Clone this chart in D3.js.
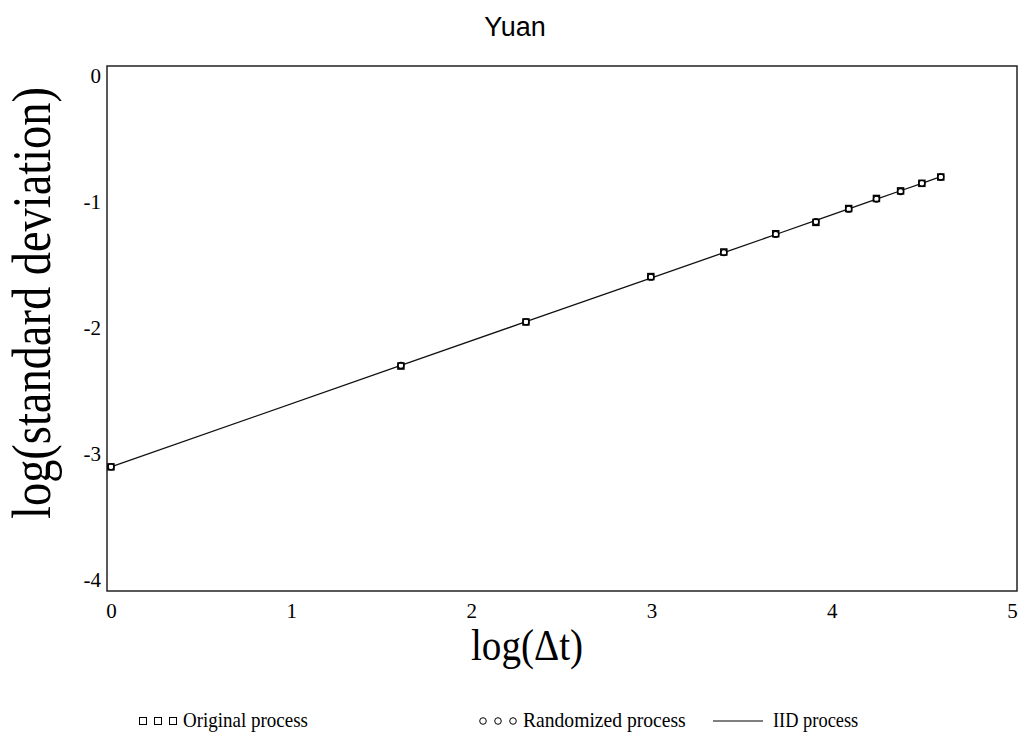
<!DOCTYPE html>
<html>
<head>
<meta charset="utf-8">
<script src="https://cdn.jsdelivr.net/npm/d3@7"></script>
<style>
  html, body { margin: 0; padding: 0; background: #fff; }
  svg { display: block; }
</style>
</head>
<body>
<svg id="chart" width="1019" height="744"></svg>
<script>
// log(Δt) sampling points (Δt = 1, 5, 10, 20, ..., 100)
const logDt = [0, 1.609, 2.303, 2.996, 3.401, 3.689, 3.912, 4.094, 4.248, 4.382, 4.500, 4.605];
// log(standard deviation) of each process
const originalValues   = [-3.11, -2.31, -1.96, -1.60, -1.405, -1.26, -1.17, -1.06, -0.98, -0.92, -0.86, -0.81];
const randomizedValues = [-3.11, -2.305, -1.96, -1.605, -1.41, -1.265, -1.165, -1.065, -0.985, -0.925, -0.86, -0.81];
const iidValues        = [-3.11, -2.305, -1.958, -1.612, -1.41, -1.266, -1.154, -1.063, -0.986, -0.919, -0.86, -0.807];
const xTicks = [0, 1, 2, 3, 4, 5];
const yTicks = [0, -1, -2, -3, -4];
const legendItems = ["Original process", "Randomized process", "IID process"];

const svg = d3.select("#chart");
const box = { left: 107, right: 1017, top: 66, bottom: 591 };

const x = d3.scaleLinear().domain([-0.022, 5.028]).range([box.left, box.right]);
const y = d3.scaleLinear().domain([-4.095, 0.071]).range([box.bottom, box.top]);

const serif = "'Liberation Serif', 'Times New Roman', serif";
const fmt = d => String(d); // plain hyphen for negatives

// title
svg.append("text")
  .attr("x", 515).attr("y", 36)
  .attr("text-anchor", "middle")
  .attr("font-family", "'Liberation Sans', Arial, sans-serif")
  .attr("font-size", 27)
  .text("Yuan");

// plot frame
svg.append("rect")
  .attr("x", box.left).attr("y", box.top)
  .attr("width", box.right - box.left).attr("height", box.bottom - box.top)
  .attr("fill", "none").attr("stroke", "#222").attr("stroke-width", 1.5);

// x axis labels (no tick marks, no domain line)
const xAxis = d3.axisBottom(x).tickValues(xTicks).tickSize(0).tickPadding(0).tickFormat(fmt);
const gx = svg.append("g").attr("transform", `translate(0,${box.bottom + 27})`).call(xAxis);
gx.select(".domain").remove();
gx.selectAll("text").attr("font-family", serif).attr("font-size", 21).attr("fill", "#000").attr("dy", "0");

// y axis labels
const yAxis = d3.axisLeft(y).tickValues(yTicks).tickSize(0).tickPadding(0).tickFormat(fmt);
const gy = svg.append("g").attr("transform", `translate(${box.left - 6},0)`).call(yAxis);
gy.select(".domain").remove();
gy.selectAll("text").attr("font-family", serif).attr("font-size", 21).attr("fill", "#000").attr("dy", "0.35em");

// axis titles (tall, slightly condensed serif)
svg.append("text")
  .attr("transform", "translate(527,660) scale(0.87,1)")
  .attr("text-anchor", "middle")
  .attr("font-family", serif).attr("font-size", 45)
  .text("log(\u0394t)");

svg.append("text")
  .attr("transform", "translate(50,303) rotate(-90) scale(0.86,1)")
  .attr("text-anchor", "middle")
  .attr("font-family", serif).attr("font-size", 54)
  .text("log(standard deviation)");

// IID line
const line = d3.line().x((d, i) => x(logDt[i])).y(d => y(d));
svg.append("path")
  .datum(iidValues)
  .attr("d", line)
  .attr("fill", "none").attr("stroke", "#111").attr("stroke-width", 1.3);

// randomized process: circles
svg.append("g").selectAll("circle")
  .data(randomizedValues)
  .join("circle")
  .attr("cx", (d, i) => x(logDt[i])).attr("cy", d => y(d))
  .attr("r", 3)
  .attr("fill", "#fff").attr("stroke", "#000").attr("stroke-width", 1.3);

// original process: squares
const sq = 6;
svg.append("g").selectAll("rect")
  .data(originalValues)
  .join("rect")
  .attr("x", (d, i) => x(logDt[i]) - sq / 2).attr("y", d => y(d) - sq / 2)
  .attr("width", sq).attr("height", sq)
  .attr("fill", "none").attr("stroke", "#000").attr("stroke-width", 1.5);

// legend
const ly = 721;
const legend = svg.append("g").attr("font-family", serif).attr("font-size", 20);
[143, 158, 173].forEach(cx => {
  legend.append("rect").attr("x", cx - 3.5).attr("y", ly - 3.5).attr("width", 7).attr("height", 7)
    .attr("fill", "#fff").attr("stroke", "#000").attr("stroke-width", 1);
});
legend.append("text").attr("transform", `translate(183,${ly + 6}) scale(0.95,1)`).text(legendItems[0]);
[483, 498, 513].forEach(cx => {
  legend.append("circle").attr("cx", cx).attr("cy", ly).attr("r", 3.3)
    .attr("fill", "#fff").attr("stroke", "#000").attr("stroke-width", 1);
});
legend.append("text").attr("transform", `translate(523,${ly + 6}) scale(0.98,1)`).text(legendItems[1]);
legend.append("line").attr("x1", 713).attr("x2", 763).attr("y1", ly).attr("y2", ly)
  .attr("stroke", "#000").attr("stroke-width", 1.2);
legend.append("text").attr("transform", `translate(773,${ly + 6}) scale(0.92,1)`).text(legendItems[2]);
</script>
</body>
</html>
